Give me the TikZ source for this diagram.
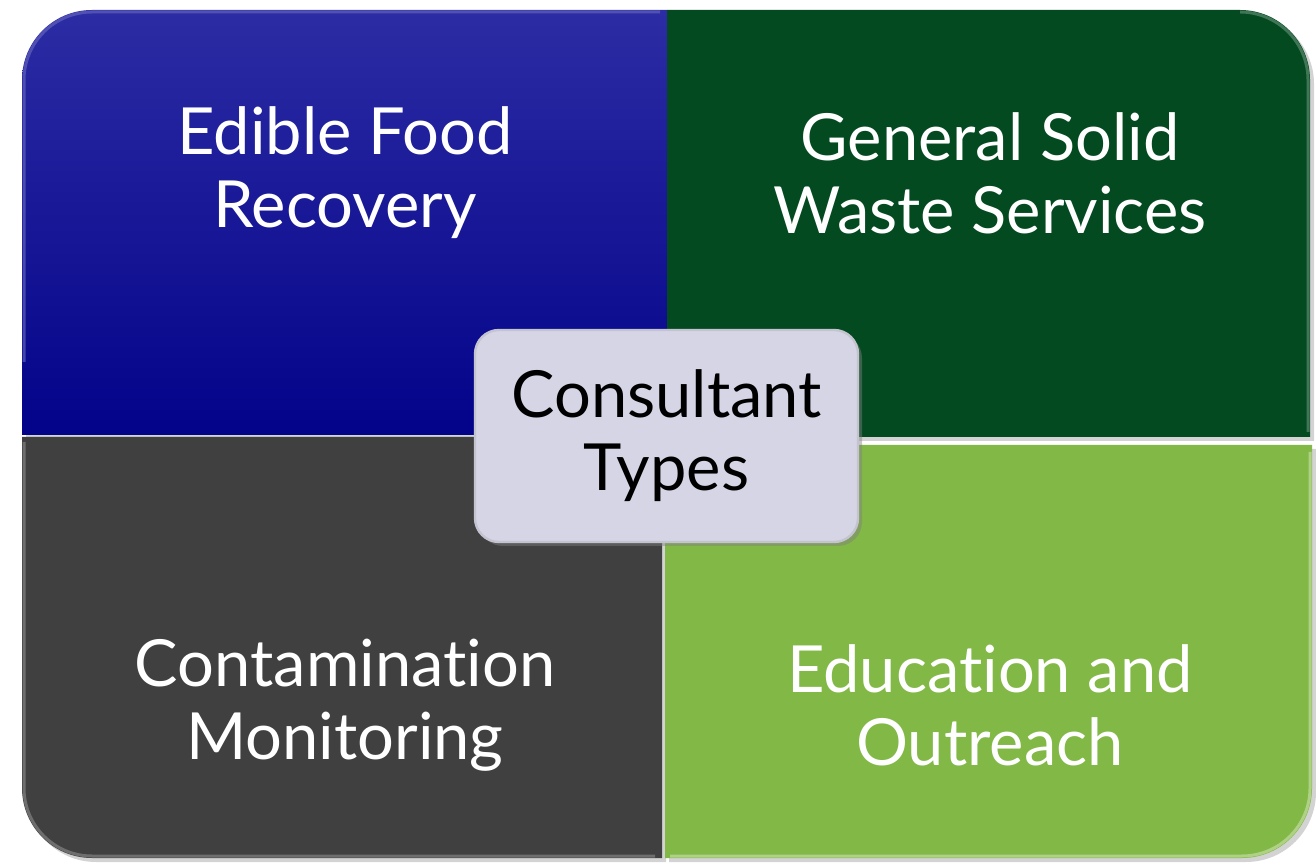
\documentclass[tikz,border=0pt]{standalone}
\usepackage{fontspec}
\setmainfont{Lato}[Ligatures=NoCommon]
\usetikzlibrary{shadows}
\definecolor{foodtop}{HTML}{2C2CA4}
\definecolor{foodbot}{HTML}{03038A}
\definecolor{waste}{HTML}{044A21}
\definecolor{contam}{HTML}{404040}
\definecolor{educ}{HTML}{82B846}
\definecolor{hubfill}{HTML}{D5D5E5}
\tikzset{
  quad/.style={drop shadow={opacity=0.35,shadow xshift=2pt,shadow yshift=-2pt}},
  lbl/.style={text=white,align=center,font=\fontsize{32.5}{36.5}\selectfont},
  hub/.style={draw=hubfill!80!gray,line width=1.2pt,fill=hubfill,rounded corners=12pt,
    minimum width=191.5pt,minimum height=106pt,align=center,
    font=\fontsize{32.5}{36.5}\selectfont,
    drop shadow={opacity=0.45,shadow xshift=2pt,shadow yshift=-2pt}}
}
\begin{document}
\begin{tikzpicture}[x={(0.5pt,0)},y={(0,0.5pt)}]
      \useasboundingbox (0,0) rectangle (1316,862);
      % four quadrants, outer corner rounded
      \path[quad,top color=foodtop,bottom color=foodbot] (22,427) -- (22,782)
        arc[start angle=180,end angle=90,radius=70] -- (667,852) -- (667,427) -- cycle;
      \path[quad,fill=waste] (667,425) -- (667,852) -- (1240,852)
        arc[start angle=90,end angle=0,radius=70] -- (1310,425) -- cycle;
      \path[quad,fill=contam] (22,425) -- (22,74)
        arc[start angle=180,end angle=270,radius=70] -- (662,4) -- (662,425) -- cycle;
      \path[quad,fill=educ] (665,417) -- (1312,417) -- (1312,74)
        arc[start angle=0,end angle=-90,radius=70] -- (665,4) -- cycle;
      % bevel highlights
      \draw[foodtop!70!white,line width=1.5pt,opacity=0.6] (24,500) -- (24,782)
        arc[start angle=180,end angle=90,radius=68] -- (660,850);
      \draw[waste!60!white,line width=1.5pt,opacity=0.6] (1240,850)
        arc[start angle=90,end angle=0,radius=68] -- (1308,430);
      \draw[contam!60!white,line width=1.5pt,opacity=0.6] (24,420) -- (24,74)
        arc[start angle=180,end angle=270,radius=68] -- (655,6);
      \draw[educ!50!white,line width=1.5pt,opacity=0.7] (1310,410) -- (1310,74)
        arc[start angle=0,end angle=-90,radius=68] -- (670,6);
      % labels
      \node[lbl] (food) at (345,689) {Edible Food\\Recovery};
      \node[lbl] (waste) at (990,689) {General Solid\\Waste Services};
      \node[lbl] (contam) at (345,157) {Contamination\\Monitoring};
      \node[lbl] (educ) at (990,157) {Education and\\Outreach};
      \node[hub] (types) at (666.5,426) {Consultant\\Types};
\end{tikzpicture}
\end{document}
